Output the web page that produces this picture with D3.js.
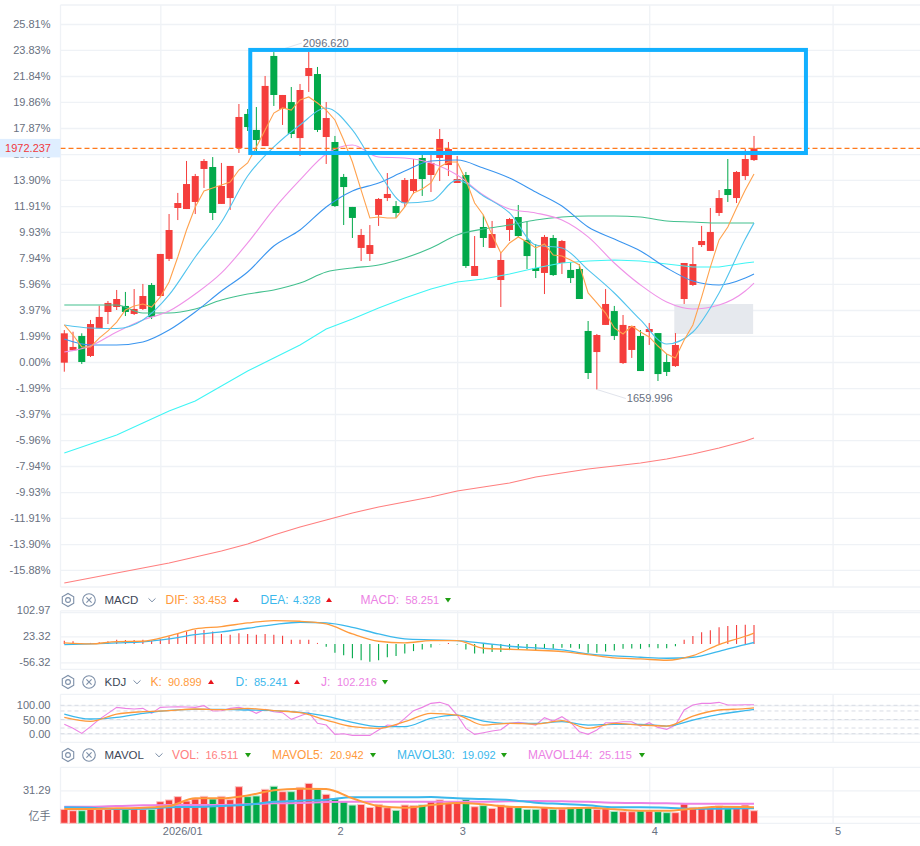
<!DOCTYPE html>
<html lang="zh-CN">

<head>
    <meta charset="UTF-8">
    <title>K线图</title>
    <script src="https://cdnjs.cloudflare.com/ajax/libs/d3/7.8.5/d3.min.js"></script>
    <style>
        * { margin: 0; padding: 0; box-sizing: border-box; }
        html, body { background: #fff; overflow: hidden; }
        svg { display: block; }
        text { font-family: "Liberation Sans", "Noto Sans CJK SC", sans-serif; }
        .axis text { font-size: 11px; fill: #687080; }
        .axis path { display: none; }
        .grid line, .axis line { stroke: #eff2f6; stroke-width: 1.3; }
        .grid path { display: none; }
        .grid text { display: none; }
    </style>
</head>

<body>
    <svg id="chart" width="920" height="846"></svg>

    <script>
        // K线 (percent against the chart base price), one value per candle
        const openPct = [
            -0.05, 0.89, 1.99, 0.46, 2.57, 3.82, 4.20, 4.28, 3.67, 4.05,
            5.88, 5.04, 7.87, 11.76, 11.68, 12.22, 14.74, 14.89, 12.07, 12.52,
            16.34, 18.94, 17.72, 16.49, 23.37, 19.32, 19.85, 17.10, 21.84, 21.99,
            17.18, 16.80, 14.13, 11.84, 8.71, 8.25, 11.23, 12.52, 11.91, 12.14,
            13.06, 15.58, 14.28, 15.58, 15.04, 13.67, 14.28, 6.57, 10.31, 8.71,
            6.26, 10.08, 11.07, 9.32, 7.18, 6.80, 9.47, 7.56, 7.03, 7.10,
            2.37, 0.76, 2.83, 3.89, -0.08, 0.92, 1.99, 2.29, 2.21, 0,
            -0.31, 4.81, 5.88, 8.93, 8.48, 11.38, 13.21, 12.52, 14.20, 15.42];
        const closePct = [
            2.19, 1.15, 0, 2.90, 3.44, 4.51, 4.81, 3.82, 4.05, 5.04,
            3.44, 8.25, 10.08, 12.14, 13.59, 14.20, 15.35, 11.38, 13.44, 14.97,
            18.71, 17.94, 16.95, 21.08, 20.39, 20.39, 17.41, 20.77, 22.45, 17.72,
            18.63, 11.91, 13.36, 11.00, 9.70, 8.93, 12.45, 12.83, 11.38, 13.90,
            13.97, 13.97, 15.20, 17.03, 16.26, 13.97, 7.33, 7.33, 9.47, 9.77,
            7.79, 10.92, 9.62, 8.09, 6.95, 9.55, 6.64, 9.24, 6.41, 4.81,
            -0.84, 2.06, 4.43, 1.99, 2.83, 2.75, -0.69, 2.52, -0.92, -0.76,
            1.30, 7.56, 7.48, 9.24, 9.93, 12.52, 12.75, 14.51, 15.50, 16.31];
        const highPct = [
            2.44, 2.31, 2.19, 3.21, 4.30, 4.66, 5.50, 5.35, 5.57, 5.96,
            6.03, 8.25, 11.30, 12.91, 15.35, 14.36, 15.50, 15.65, 15.20, 14.97,
            19.70, 19.32, 19.47, 21.84, 23.67, 20.39, 21.00, 21.23, 23.67, 22.53,
            19.85, 17.26, 14.36, 11.84, 10.16, 10.46, 12.52, 14.43, 12.29, 14.05,
            15.50, 15.81, 15.81, 17.79, 16.80, 15.73, 14.51, 9.62, 11.23, 10.77,
            8.32, 11.00, 11.99, 10.69, 9.01, 9.70, 9.70, 9.32, 7.64, 7.48,
            3.13, 2.14, 5.57, 4.28, 3.59, 2.75, 2.44, 2.98, 2.21, 0.61,
            2.21, 7.56, 8.78, 10.39, 11.76, 13.13, 15.50, 14.58, 16.26, 17.26];
        const lowPct = [
            -0.74, 0.89, -0.15, 0.38, 2.57, 2.90, 3.97, 3.51, 3.59, 3.97,
            3.28, 4.96, 7.71, 10.84, 11.68, 11.30, 13.29, 10.84, 12.07, 11.61,
            15.96, 17.64, 16.04, 16.49, 19.55, 18.10, 17.10, 15.73, 20.62, 17.56,
            15.12, 11.84, 10.46, 9.47, 7.71, 7.71, 10.39, 12.29, 11.00, 11.84,
            12.83, 12.68, 12.98, 13.82, 14.20, 13.67, 7.18, 6.57, 8.78, 8.71,
            4.20, 9.24, 9.55, 7.10, 6.41, 5.19, 6.57, 6.72, 6.03, 4.81,
            -1.30, -2.10, 2.83, 1.68, -0.15, 0.31, -0.69, 1.30, -1.45, -1.07,
            -0.38, 4.43, 5.80, 8.78, 8.48, 11.15, 12.22, 12.14, 13.90, 15.35];

        const ma5 = [
            2.83, 2.06, 1.15, 1.15, 1.83, 2.37, 3.05, 3.97, 4.28, 4.43,
            4.20, 4.96, 6.11, 8.02, 10.08, 11.84, 13.06, 13.29, 13.52, 13.74,
            14.66, 15.20, 16.42, 17.72, 19.01, 19.40, 19.24, 20.01, 20.24, 19.78,
            19.24, 18.48, 16.95, 15.27, 13.13, 11.00, 11.07, 11.00, 11.00, 11.84,
            12.91, 13.21, 13.67, 14.89, 15.27, 15.27, 13.90, 12.14, 11.23, 9.70,
            8.32, 9.09, 9.55, 9.16, 8.71, 9.01, 8.17, 8.09, 7.79, 7.41,
            5.27, 4.51, 3.74, 2.60, 2.14, 2.75, 2.29, 1.91, 1.22, 0.61,
            0.31, 1.68, 2.83, 4.96, 7.25, 9.32, 10.31, 11.76, 13.13, 14.36];

        const sampleIdx = [0, 3, 6, 9, 12, 15, 18, 21, 24, 27, 30, 33, 36, 39, 42, 45, 48, 51, 54, 57, 60, 63, 66, 69, 72, 75, 78, 79];
        const ma10 = [2.83, 2.60, 2.56, 3.21, 5.12, 8.02, 10.69, 14.20, 16.42, 18.10, 19.40, 17.72, 14.51, 12.14, 12.29, 13.90, 12.68, 11.38, 8.93, 8.71, 7.03, 5.27, 3.21, 1.37, 2.29, 5.27, 9.39, 10.61];
        const ma20 = [0.76, 1.22, 2.29, 3.21, 3.89, 5.19, 6.80, 9.09, 11.68, 13.90, 15.88, 16.57, 15.65, 15.58, 15.20, 14.28, 12.75, 11.68, 11.38, 10.84, 9.55, 7.56, 5.88, 4.58, 4.05, 4.35, 5.42, 6.03];
        const ma30 = [1.76, 1.30, 1.30, 1.53, 2.44, 3.82, 5.42, 6.87, 8.86, 10.08, 11.84, 13.06, 13.67, 14.58, 15.35, 15.42, 14.81, 14.05, 12.98, 11.91, 10.31, 9.39, 8.48, 7.18, 6.19, 5.88, 6.41, 6.72];
        const ma60 = [4.35, 4.35, 4.35, 3.74, 3.74, 4.05, 4.73, 5.19, 5.50, 6.03, 6.87, 7.18, 7.41, 7.94, 8.71, 9.70, 10.16, 10.46, 10.84, 11.07, 11.15, 11.15, 11.07, 10.77, 10.69, 10.61, 10.61, 10.61];
        const ma120 = [-6.95, -6.26, -5.57, -4.66, -3.74, -2.98, -1.83, -0.69, 0.31, 1.30, 2.52, 3.28, 4.12, 4.89, 5.57, 6.11, 6.34, 6.72, 7.18, 7.56, 7.71, 7.79, 7.71, 7.48, 7.25, 7.25, 7.56, 7.64];
        const ma250 = [-16.88, -16.49, -16.11, -15.73, -15.35, -14.89, -14.43, -13.90, -13.21, -12.60, -12.07, -11.53, -11.07, -10.69, -10.31, -9.85, -9.55, -9.24, -8.78, -8.48, -8.17, -7.94, -7.71, -7.41, -7.03, -6.57, -6.03, -5.80];

        // indicator panes
        const macdBars = [
            10, 8, 2, 3, 5, 8, 13, 12, 12, 13,
            10, 15, 23, 31, 38, 43, 43, 38, 30, 28,
            33, 30, 28, 30, 28, 25, 13, 13, 13, 3,
            -9, -27, -35, -44, -50, -55, -50, -41, -37, -29,
            -22, -17, -11, -1, 3, -2, -17, -29, -29, -25,
            -25, -19, -17, -17, -19, -15, -15, -12, -12, -15,
            -27, -27, -23, -20, -15, -14, -15, -10, -13, -13,
            -7, 13, 24, 36, 42, 51, 55, 58, 59, 58.25];
        const dif = [3.06, 0, 7.15, 8.17, 24.5, 45.9, 53.1, 64.3, 71.5, 69.4, 61.3, 30.6, 8.2, 3.1, 10.2, 10.2, -13.3, -16.3, -19.4, -23.5, -32.7, -42.9, -45.9, -50, -35.7, -2, 23.5, 33.45];
        const dea = [-2, 0, 3.1, 6.1, 15.3, 28.6, 36.8, 48, 59.2, 66.4, 64.3, 51, 30.6, 15.3, 12.3, 10.2, 2, -7.1, -12.3, -18.4, -30.6, -36.8, -40.8, -43.9, -40.8, -22.5, -2, 4.33];

        const kVals = [57.5, 43.4, 69.3, 77.5, 81, 86.9, 84.5, 89.2, 81, 74, 48.1, 24.7, 18.8, 42.3, 71.6, 65.7, 30.5, 36.4, 34, 45.8, 18.8, 36.4, 30.5, 27, 62.2, 83.4, 88.1, 90.9];
        const dVals = [69.3, 51.7, 57.5, 71.6, 82.2, 85.7, 85.7, 83.4, 81, 75.1, 62.2, 39.9, 24.7, 24.7, 54, 65.7, 44.6, 36.4, 36.4, 42.3, 30.5, 32.9, 32.9, 27, 48.1, 68.1, 81, 85.2];
        const jVals = [
            32.9, 18.8, 1.2, 24.7, 50.5, 71.6, 92.7, 89.2, 86.9, 89.2,
            71.6, 92.7, 93.9, 95.1, 93.9, 92.7, 98.6, 79.8, 81, 89.2,
            92.7, 85.7, 71.6, 85.7, 77.5, 74, 50.5, 62.2, 74, 36.4,
            30.5, -2.3, 0, -5.9, -5.9, -5.9, 12.9, 30.5, 28.2, 54,
            81, 92.7, 106.8, 110.4, 101, 65.7, 18.8, -2.3, 3.5, 9.4,
            14.1, 36.4, 39.9, 36.4, 30.5, 56.4, 44.6, 59.9, 39.9, 7,
            -2.3, 12.9, 38.7, 38.7, 42.3, 42.3, 27, 38.7, 22.3, 15.3,
            30.5, 83.4, 101, 106.8, 106.8, 110.4, 101, 101, 102.1, 102.2];

        const vol = [
            17.5, 16.5, 16.5, 17.5, 17.5, 17.5, 17.5, 18.2, 18.2, 17.5,
            17.5, 23.05, 24.3, 26.7, 23.5, 25, 26.9, 25, 26.9, 24.5,
            33.9, 26.7, 27.2, 32, 34.2, 30.3, 30.3, 33.4, 36.3, 32,
            28.4, 25, 23.05, 20.6, 21.1, 18.9, 21.1, 18.7, 16.8, 20.6,
            20.2, 20.6, 23.05, 24.3, 21.8, 21.8, 24.7, 19.4, 20.2, 18.2,
            20.6, 19.4, 18.7, 17.5, 17.5, 18.7, 17.5, 17.7, 18.7, 18.7,
            18.7, 17.5, 18, 16, 15.8, 15.8, 16.3, 16.3, 15.8, 15.1,
            15.1, 21.4, 18.9, 18.9, 18.9, 19.9, 18.9, 18.9, 20.6, 16.5];
        const mavol5 = [17.74, 17.74, 18.2, 18.7, 19.9, 25.5, 25.5, 27.6, 31.3, 32.5, 32.2, 25.5, 19.9, 18.7, 20.6, 22.1, 21.1, 19.4, 19, 18.2, 18.7, 17.5, 16.5, 16.5, 18, 19.4, 19.2, 19];
        const mavol30 = [19, 18.7, 17.74, 18, 19, 19.2, 19.9, 20.9, 23, 23.8, 24.5, 26.2, 26.2, 26.2, 26.4, 25.5, 25, 24.3, 22.3, 21.4, 20.4, 19, 19, 18.7, 18, 18, 18.2, 18.2];
        const mavol144 = [19.4, 19.4, 19.9, 20.4, 20.6, 20.6, 20.6, 21.1, 21.85, 22.1, 22.8, 23.05, 23.05, 23.05, 23.05, 23.05, 23.05, 23.3, 23.5, 23.3, 23.05, 22.3, 22.1, 21.85, 21.6, 21.6, 21.6, 21.6];

        // axes
        const pctTicks = [25.81, 23.83, 21.84, 19.86, 17.87, 15.88, 13.90, 11.91, 9.93, 7.94, 5.96, 3.97, 1.99, 0, -1.99, -3.97, -5.96, -7.94, -9.93, -11.91, -13.90, -15.88];
        const macdTicks = [102.97, 23.32, -56.32];
        const kdjTicks = [100, 50, 0];
        const kdjGuides = [100, 80, 50, 20, 0];
        const volTicks = [31.29, 12.44];
        const volUnit = "亿手";
        const monthIdx = [11, 31, 45, 67, 88];
        const monthLabels = ["2026/01", "2", "3", "4", "5"];

        // annotations, in candle number / percent
        const lastPrice = "1972.237";
        const lastPct = 16.31;
        const highLabel = "2096.620";
        const lowLabel = "1659.996";
        const boxIdx = [21.3, 84.95];
        const boxPct = [23.83, 15.96];
        const shadeIdx = [69.87, 78.9];
        const shadePct = [4.43, 2.14];

        // legend text of the three panes
        const macdLegend = [["DIF:", "33.453", "up"], ["DEA:", "4.328", "up"], ["MACD:", "58.251", "down"]];
        const kdjLegend = [["K:", "90.899", "up"], ["D:", "85.241", "up"], ["J:", "102.216", "down"]];
        const volLegend = [["VOL:", "16.511", "down"], ["MAVOL5:", "20.942", "down"], ["MAVOL30:", "19.092", "down"], ["MAVOL144:", "25.115", "down"]];

        const RED = "#f53e3c", GREEN = "#02a94a";
        const ORANGE = "#ff9a3c", SKY = "#3bb8ec", PINK = "#ec82e4";

        const svg = d3.select("#chart");
        const width = 920, left = 60.5;

        const x = d3.scaleLinear().domain([0, 79]).range([64.3, 754]);
        const y = d3.scaleLinear().domain([0, 25.81]).range([362, 24]);
        const yMacd = d3.scaleLinear().domain([-56.32, 102.97]).range([662.3, 610.3]);
        const yKdj = d3.scaleLinear().domain([0, 100]).range([733.7, 705.3]);
        const yVol = d3.scaleLinear().domain([7.38, 31.29]).range([823.3, 790.3]);

        const candles = openPct.map((o, i) => ({ i, o, c: closePct[i], h: highPct[i], l: lowPct[i], up: closePct[i] >= o }));

        function hLine(py) {
            svg.append("line").attr("x1", left).attr("x2", width)
                .attr("y1", py).attr("y2", py).attr("stroke", "#eff2f6").attr("stroke-width", 1.3);
        }

        // pane with vertical month lines, frame and a left axis with grid lines
        function pane(top, bottom, scale, ticks, fmt, borders) {
            svg.append("g").attr("class", "grid").attr("transform", `translate(0,${bottom})`)
                .call(d3.axisBottom(x).tickValues(monthIdx).tickSize(-(bottom - top)).tickFormat(""));
            svg.append("line").attr("x1", left).attr("x2", left).attr("y1", top).attr("y2", bottom)
                .attr("stroke", "#eff2f6").attr("stroke-width", 1.3);
            borders.forEach(hLine);
            svg.append("g").attr("class", "axis").attr("transform", `translate(${left},0)`)
                .call(d3.axisLeft(scale).tickValues(ticks).tickSize(-(width - left)).tickPadding(10).tickFormat(fmt));
        }

        pane(5, 587, y, pctTicks, d => d.toFixed(2) + "%", [5, 587]);
        pane(611, 669.3, yMacd, macdTicks, d => d.toFixed(2), [612.7, 669.3]);
        pane(694.3, 742.3, yKdj, kdjTicks, d => d.toFixed(2), [694.3, 742.3]);
        pane(767.3, 823.3, yVol, volTicks, (d, i) => i === 0 ? d.toFixed(2) : volUnit, [767.3, 823.3]);

        // x axis labels sit right of their grid line
        svg.append("g").attr("class", "axis").attr("transform", "translate(0,824)")
            .call(d3.axisBottom(x).tickValues(monthIdx).tickSize(0).tickPadding(3).tickFormat((d, i) => monthLabels[i]))
            .selectAll("text").attr("text-anchor", "start").attr("dx", 2);

        // grey block under the candles
        svg.append("rect")
            .attr("x", x(shadeIdx[0])).attr("y", y(shadePct[0]))
            .attr("width", x(shadeIdx[1]) - x(shadeIdx[0])).attr("height", y(shadePct[1]) - y(shadePct[0]))
            .attr("fill", "#e6e9ee");

        // 蜡烛
        const candle = svg.append("g").selectAll("g").data(candles).join("g")
            .attr("fill", d => d.up ? RED : GREEN).attr("stroke", d => d.up ? RED : GREEN);
        candle.append("line")
            .attr("x1", d => x(d.i)).attr("x2", d => x(d.i))
            .attr("y1", d => y(d.h)).attr("y2", d => y(d.l)).attr("stroke-width", 1);
        candle.append("rect")
            .attr("x", d => x(d.i) - 3.5).attr("width", 7).attr("stroke", "none")
            .attr("y", d => y(Math.max(d.o, d.c)))
            .attr("height", d => Math.max(1, Math.abs(y(d.o) - y(d.c))));

        function drawLine(vals, idx, scale, color, w, curve) {
            svg.append("path").datum(vals)
                .attr("fill", "none").attr("stroke", color).attr("stroke-width", w)
                .attr("d", d3.line().x((d, i) => x(idx[i])).y(d => scale(d)).curve(curve));
        }
        const everyIdx = d3.range(80);

        // 均线
        drawLine(ma250, sampleIdx, y, "#ff7f7f", 1.1, d3.curveLinear);
        drawLine(ma120, sampleIdx, y, "#3ff5f5", 1.1, d3.curveLinear);
        drawLine(ma60, sampleIdx, y, "#43c08e", 1.1, d3.curveMonotoneX);
        drawLine(ma30, sampleIdx, y, "#3a95ef", 1.1, d3.curveMonotoneX);
        drawLine(ma20, sampleIdx, y, "#ef92e8", 1.1, d3.curveMonotoneX);
        drawLine(ma10, sampleIdx, y, "#52c4ee", 1.1, d3.curveMonotoneX);
        drawLine(ma5, everyIdx, y, "#ffa24e", 1.1, d3.curveLinear);

        // 最新价
        svg.append("line").attr("x1", left).attr("x2", width)
            .attr("y1", y(lastPct)).attr("y2", y(lastPct))
            .attr("stroke", "#ff7a1c").attr("stroke-width", 1.2).attr("stroke-dasharray", "5 3");
        svg.append("rect").attr("x", 0).attr("width", left).attr("y", y(lastPct) - 9.5).attr("height", 18.5).attr("fill", "#dfeeff");
        svg.append("text").attr("x", 51).attr("y", y(lastPct)).attr("dy", "0.35em").attr("text-anchor", "end")
            .attr("font-size", 11).attr("fill", "#f0393c").text(lastPrice);

        // 最高 / 最低
        function extreme(cd, pct, label, dx, dy) {
            const px = x(cd), py = y(pct);
            svg.append("line").attr("x1", px).attr("y1", py).attr("x2", px + dx - 1).attr("y2", py + dy)
                .attr("stroke", "#e1e4ec").attr("stroke-width", 1);
            svg.append("text").attr("x", px + dx).attr("y", py + dy).attr("dy", "0.35em")
                .attr("font-size", 11).attr("fill", "#687080").text(label);
        }
        const hiCd = d3.maxIndex(highPct), loCd = d3.minIndex(lowPct);
        extreme(hiCd, highPct[hiCd], highLabel, 29, -9);
        extreme(loCd, lowPct[loCd], lowLabel, 30, 9);

        // 蓝框
        svg.append("rect")
            .attr("x", x(boxIdx[0])).attr("y", y(boxPct[0]))
            .attr("width", x(boxIdx[1]) - x(boxIdx[0])).attr("height", y(boxPct[1]) - y(boxPct[0]))
            .attr("fill", "none").attr("stroke", "#12b0ff").attr("stroke-width", 4);

        // MACD
        svg.append("g").selectAll("line").data(macdBars).join("line")
            .attr("x1", (d, i) => x(i)).attr("x2", (d, i) => x(i))
            .attr("y1", yMacd(0)).attr("y2", d => yMacd(d))
            .attr("stroke", d => d >= 0 ? RED : GREEN).attr("stroke-width", 1.1);
        drawLine(dea, sampleIdx, yMacd, SKY, 1.3, d3.curveMonotoneX);
        drawLine(dif, sampleIdx, yMacd, ORANGE, 1.3, d3.curveMonotoneX);

        // KDJ
        svg.append("g").selectAll("line").data(kdjGuides).join("line")
            .attr("x1", left).attr("x2", width).attr("y1", d => yKdj(d)).attr("y2", d => yKdj(d))
            .attr("stroke", "#d8dce4").attr("stroke-width", 1).attr("stroke-dasharray", "4 3");
        drawLine(jVals, everyIdx, yKdj, PINK, 1.1, d3.curveLinear);
        drawLine(dVals, sampleIdx, yKdj, SKY, 1.3, d3.curveMonotoneX);
        drawLine(kVals, sampleIdx, yKdj, ORANGE, 1.3, d3.curveMonotoneX);

        // 成交量
        svg.append("g").selectAll("rect").data(vol).join("rect")
            .attr("x", (d, i) => x(i) - 3.6).attr("width", 7.2)
            .attr("y", d => yVol(d)).attr("height", d => yVol.range()[0] - yVol(d))
            .attr("fill", (d, i) => candles[i].up ? RED : GREEN)
            .attr("stroke", (d, i) => candles[i].up ? "#fbc6c5" : "#b3e5c8").attr("stroke-width", 1);
        drawLine(mavol144, sampleIdx, yVol, PINK, 2, d3.curveMonotoneX);
        drawLine(mavol30, sampleIdx, yVol, SKY, 2, d3.curveMonotoneX);
        drawLine(mavol5, sampleIdx, yVol, ORANGE, 2, d3.curveMonotoneX);

        // 表头: settings + close icons, name, chevron, then label / value / arrow
        function icons(cy) {
            const g = svg.append("g").attr("fill", "none").attr("stroke", "#7d8fa8").attr("stroke-width", 1.1);
            const hex = d3.range(6).map(k => [68 + 6.6 * Math.cos(Math.PI / 6 + k * Math.PI / 3), cy + 6.6 * Math.sin(Math.PI / 6 + k * Math.PI / 3)]);
            g.append("path").attr("d", d3.line().curve(d3.curveLinearClosed)(hex));
            g.append("circle").attr("cx", 68).attr("cy", cy).attr("r", 2.4);
            g.append("circle").attr("cx", 89).attr("cy", cy).attr("r", 6.3);
            g.append("path").attr("d", `M86.4 ${cy - 2.6}L91.6 ${cy + 2.6}M91.6 ${cy - 2.6}L86.4 ${cy + 2.6}`);
        }
        function header(cy, name, chevX, items, colors, slots) {
            icons(cy);
            svg.append("text").attr("x", 104.5).attr("y", cy).attr("dy", "0.35em")
                .attr("font-size", 11.5).attr("fill", "#3d4757").text(name);
            svg.append("path").attr("d", `M${chevX - 3.5} ${cy - 1.6}L${chevX} ${cy + 1.8}L${chevX + 3.5} ${cy - 1.6}`)
                .attr("fill", "none").attr("stroke", "#7d8fa8").attr("stroke-width", 1);
            items.forEach((it, k) => {
                const [lx, vx, tx] = slots[k];
                svg.append("text").attr("x", lx).attr("y", cy).attr("dy", "0.35em").attr("font-size", 12).attr("fill", colors[k]).text(it[0]);
                svg.append("text").attr("x", vx).attr("y", cy).attr("dy", "0.35em").attr("font-size", 11).attr("fill", colors[k]).text(it[1]);
                const tri = it[2] === "up"
                    ? `M${tx - 3} ${cy + 2}L${tx + 3} ${cy + 2}L${tx} ${cy - 2.4}Z`
                    : `M${tx - 3} ${cy - 2}L${tx + 3} ${cy - 2}L${tx} ${cy + 2.4}Z`;
                svg.append("path").attr("d", tri).attr("fill", it[2] === "up" ? "#e8141c" : "#1f9e12");
            });
        }
        header(600, "MACD", 152, macdLegend, [ORANGE, SKY, PINK], [[165.5, 193, 236], [260.5, 293, 329], [360.5, 405.5, 448]]);
        header(682, "KDJ", 137, kdjLegend, [ORANGE, SKY, PINK], [[150.5, 168, 211], [235.5, 254, 297], [321, 337, 385]]);
        header(755, "MAVOL", 159, volLegend, ["#ff8080", ORANGE, SKY, PINK], [[172, 205.5, 248], [272, 330, 373], [397, 462, 504], [528, 599, 642]]);
    </script>
</body>

</html>
